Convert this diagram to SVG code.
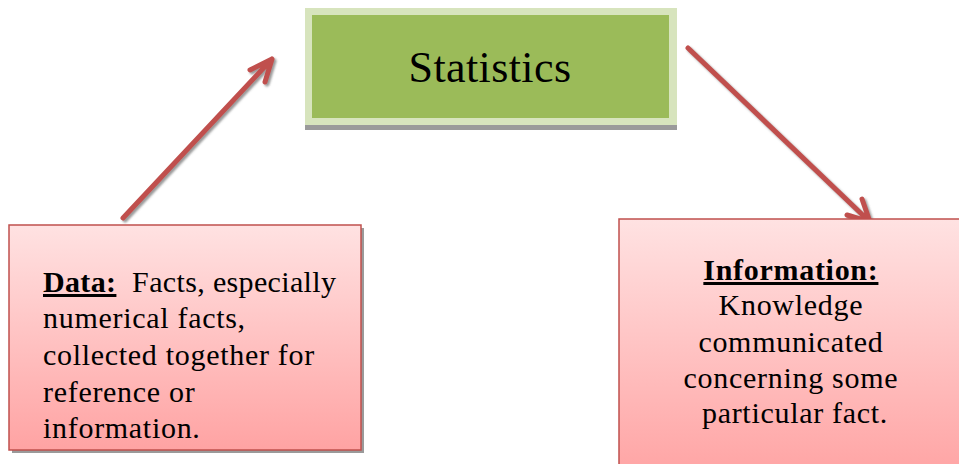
<svg xmlns="http://www.w3.org/2000/svg" width="959" height="464" viewBox="0 0 959 464">
<style>
.t{font-family:"Liberation Serif","Times New Roman",serif;fill:#000;}
.box{font-size:30px;letter-spacing:0.7px;}
.b{font-weight:bold;text-decoration:underline;}
.pink{fill:url(#pg);stroke:#c0504d;stroke-width:1.5;}
.shadow{fill:#9a9a9a;}
.arrow{fill:none;stroke:#c0504d;stroke-width:5;stroke-linecap:round;stroke-linejoin:round;}
</style>
<defs>
<linearGradient id="pg" x1="0" y1="0" x2="0" y2="1">
<stop offset="0" stop-color="#ffe2e2"/>
<stop offset="1" stop-color="#ffa3a3"/>
</linearGradient>
<filter id="ds" x="-20%" y="-20%" width="140%" height="140%">
<feDropShadow dx="2" dy="2" stdDeviation="1" flood-color="#555" flood-opacity="0.6"/>
</filter>
</defs>

<g id="connectors">
<g filter="url(#ds)">
<path class="arrow" d="M123,218 L272,59 M250,70 L272,59 L265,82"/>
<path class="arrow" d="M688,48 L870,222 M847,215 L870,222 L862,199"/>
</g>
</g>

<g id="statistics">
<rect class="shadow" x="305" y="120" width="372" height="10"/>
<rect x="305" y="8" width="372" height="117" fill="#d7e4bd"/>
<rect x="312" y="15" width="357" height="103" fill="#9bbb59"/>
<text class="t" x="490" y="82" font-size="44" letter-spacing="0.4" text-anchor="middle">Statistics</text>
</g>

<g id="data">
<rect class="shadow" x="12" y="228" width="352" height="225"/>
<rect class="pink" x="9" y="225" width="352" height="225"/>
<text class="t box" x="43">
<tspan x="43" y="292" letter-spacing="0.35"><tspan class="b">Data:</tspan>&#160; Facts, especially</tspan>
<tspan x="43" y="328">numerical facts,</tspan>
<tspan x="43" y="365">collected together for</tspan>
<tspan x="43" y="402">reference or</tspan>
<tspan x="43" y="438">information.</tspan>
</text>
</g>

<g id="information">
<rect class="shadow" x="622" y="222" width="350" height="260"/>
<rect class="pink" x="619" y="219" width="350" height="260"/>
<text class="t box" text-anchor="middle">
<tspan x="795" y="280" class="b">Information:</tspan>
<tspan x="795" y="315">Knowledge</tspan>
<tspan x="795" y="352">communicated</tspan>
<tspan x="795" y="388">concerning some</tspan>
<tspan x="795" y="423">particular fact.</tspan>
</text>
</g>
</svg>
